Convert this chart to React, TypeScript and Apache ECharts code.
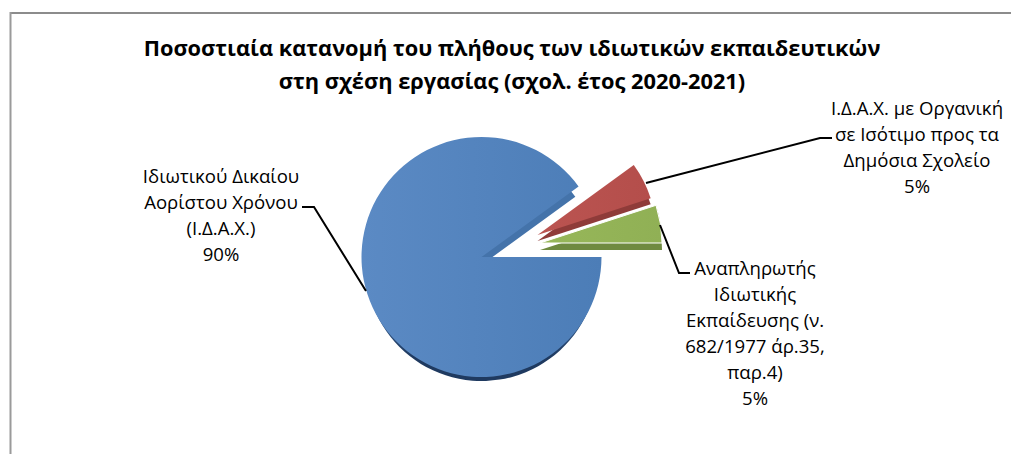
import React, { useEffect, useRef } from "react";
import * as echarts from "echarts";

const FONT = "'Open Sans', 'Noto Sans', sans-serif";

const titleLines = [
  "Ποσοστιαία κατανομή του πλήθους των ιδιωτικών εκπαιδευτικών",
  "στη σχέση εργασίας (σχολ. έτος 2020-2021)",
];
const categories = [
  "Ιδιωτικού Δικαίου\nΑορίστου Χρόνου\n(Ι.Δ.Α.Χ.)",
  "Ι.Δ.Α.Χ. με Οργανική\nσε Ισότιμο προς τα\nΔημόσια Σχολείο",
  "Αναπληρωτής\nΙδιωτικής\nΕκπαίδευσης (ν.\n682/1977 άρ.35,\nπαρ.4)",
];
const values = [90, 5, 5];

// Placement of each slice, purely presentational
const slices = [
  {
    center: [481.5, 257], r: 120, depth: 8, depthR: 116, top: ["#5b8ac4", "#4c7db7"],
    side: [[0, "#4473aa"], [0.55, "#4473aa"], [0.9, "#1f3a60"], [1, "#1f3a60"]], border: 0,
  },
  {
    center: [537.5, 235], r: 119, depth: 6, depthR: 119, top: ["#bb5451", "#b44e4b"],
    side: [[0, "#8f3b39"], [1, "#8f3b39"]], border: 0,
  },
  {
    center: [540, 243], r: 122, depth: 7, depthR: 122, top: ["#97b759", "#90b055"],
    side: [[0, "#6f8a40"], [1, "#6f8a40"]], border: 1,
  },
];
const labels = [
  { x: 221, y: 214 },
  { x: 917, y: 146 },
  { x: 755, y: 332 },
];
const leaders = [
  [[366, 291], [314, 207], [302, 207]],
  [[646, 183], [820, 138], [832, 138]],
  [[660, 225], [679, 273], [690, 273]],
];

function layer(i: number, isTop: boolean) {
  const s = slices[i];
  const color = isTop
    ? new echarts.graphic.LinearGradient(0, 0, 1, 0, [
        { offset: 0, color: s.top[0] },
        { offset: 1, color: s.top[1] },
      ])
    : new echarts.graphic.LinearGradient(
        0, 0, 0, 1,
        s.side.map((c: any) => ({ offset: c[0], color: c[1] })),
      );
  return {
    type: "pie",
    silent: true,
    clockwise: true,
    startAngle: 0,
    center: [s.center[0], s.center[1] + (isTop ? 0 : s.depth)],
    radius: [0, isTop ? s.r : s.depthR],
    label: { show: false },
    labelLine: { show: false },
    z: 2 + i * 2 + (isTop ? 1 : 0),
    data: values.map((v, j) => ({
      value: v,
      name: categories[j],
      itemStyle:
        j === i
          ? { color, borderColor: "#ffffff", borderWidth: isTop ? s.border : 0 }
          : { color: "transparent", borderWidth: 0 },
    })),
  };
}

export default function App() {
  const ref = useRef<HTMLDivElement>(null);
  useEffect(() => {
    const chart = echarts.init(ref.current!, undefined, { renderer: "svg" });
    const series: any[] = [];
    values.forEach((_, i) => {
      series.push(layer(i, false));
      series.push(layer(i, true));
    });
    chart.setOption({
      animation: false,
      backgroundColor: "#ffffff",
      series,
      graphic: [
        { type: "line", shape: { x1: 10.5, y1: 13, x2: 1011, y2: 13 }, style: { stroke: "#8c8c8c", lineWidth: 2 }, z: 1 },
        { type: "line", shape: { x1: 10.5, y1: 12, x2: 10.5, y2: 454 }, style: { stroke: "#9a9a9a", lineWidth: 2 }, z: 1 },
        {
          type: "text",
          x: 512,
          y: 64,
          z: 20,
          style: {
            text: titleLines.join("\n"),
            font: `bold 21.8px ${FONT}`,
            fill: "#000000",
            align: "center",
            verticalAlign: "middle",
            lineHeight: 33,
          },
        },
        ...leaders.map((points) => ({
          type: "polyline",
          z: 20,
          shape: { points },
          style: { stroke: "#000000", lineWidth: 2, fill: "none" },
        })),
        ...categories.map((name, i) => ({
          type: "text",
          x: labels[i].x,
          y: labels[i].y,
          z: 20,
          style: {
            text: `${name}\n${values[i]}%`,
            font: `18.6px ${FONT}`,
            fill: "#000000",
            align: "center",
            verticalAlign: "middle",
            lineHeight: 26,
          },
        })),
      ],
    });
    return () => chart.dispose();
  }, []);
  return (
    <div
      ref={ref}
      style={{ position: "absolute", left: 0, top: 0, width: 1011, height: 454 }}
    />
  );
}
